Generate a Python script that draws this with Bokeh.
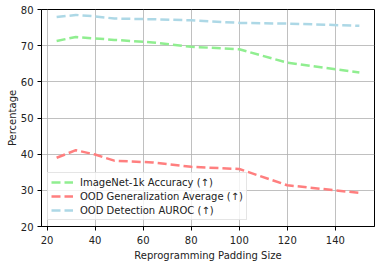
from bokeh.plotting import figure
from bokeh.models import Range1d, FixedTicker, Legend, LegendItem, ColumnDataSource
from bokeh.embed import file_html
from bokeh.resources import INLINE

padding = [24, 32, 40, 48, 64, 80, 100, 120, 150]
imagenet_acc = [71.3, 72.4, 72.0, 71.6, 70.9, 69.7, 69.0, 65.3, 62.6]
ood_gen = [39.0, 41.1, 39.9, 38.2, 37.7, 36.5, 35.9, 31.4, 29.3]
ood_auroc = [77.9, 78.5, 78.1, 77.5, 77.3, 77.0, 76.3, 76.1, 75.5]

labels = ["ImageNet-1k Accuracy (\u2191)", "OOD Generalization Average (\u2191)", "OOD Detection AUROC (\u2191)"]
colors = ["#90ee90", "#ff7f7f", "#add8e6"]

FONT = "DejaVu Sans"

p = figure(width=376, height=263, output_backend="svg", toolbar_location=None,
           x_range=Range1d(17.7, 156.3), y_range=Range1d(20, 80),
           min_border_left=41, min_border_top=9, min_border_right=2, min_border_bottom=36)

p.outline_line_color = "black"
p.outline_line_width = 1
p.outline_line_alpha = 1

src = ColumnDataSource(dict(x=padding, a=imagenet_acc, g=ood_gen, d=ood_auroc))
r1 = p.line("x", "a", source=src, line_color=colors[0], line_width=2.5, line_dash="9 4")
r2 = p.line("x", "g", source=src, line_color=colors[1], line_width=2.5, line_dash="9 4")
r3 = p.line("x", "d", source=src, line_color=colors[2], line_width=2.5, line_dash="9 4")

for ax in (p.xaxis[0], p.yaxis[0]):
    ax.major_label_text_font = FONT
    ax.major_label_text_font_size = "10px"
    ax.major_label_text_color = "#222222"
    ax.axis_label_text_font = FONT
    ax.axis_label_text_font_size = "10px"
    ax.axis_label_text_font_style = "normal"
    ax.axis_label_text_color = "#222222"
    ax.major_tick_in = 0
    ax.major_tick_out = 4
    ax.minor_tick_line_color = None
    ax.axis_line_color = "black"
    ax.major_label_standoff = 5
    ax.axis_label_standoff = 3

p.yaxis[0].major_label_standoff = 4
p.yaxis[0].axis_label_standoff = 0

p.xaxis.ticker = FixedTicker(ticks=[20, 40, 60, 80, 100, 120, 140])
p.yaxis.ticker = FixedTicker(ticks=[20, 30, 40, 50, 60, 70, 80])
p.xaxis.axis_label = "Reprogramming Padding Size"
p.yaxis.axis_label = "Percentage"

p.xgrid.grid_line_color = "#b0b0b0"
p.ygrid.grid_line_color = "#b0b0b0"
p.xgrid.grid_line_width = 0.8
p.ygrid.grid_line_width = 0.8

legend = Legend(items=[LegendItem(label=labels[0], renderers=[r1]),
                       LegendItem(label=labels[1], renderers=[r2]),
                       LegendItem(label=labels[2], renderers=[r3])],
                location="bottom_left")
legend.label_text_font = FONT
legend.label_text_font_size = "10px"
legend.label_text_color = "#222222"
legend.border_line_color = "#cccccc"
legend.background_fill_alpha = 0.8
legend.glyph_width = 22
legend.glyph_height = 12
legend.label_height = 12
legend.spacing = 2
legend.padding = 3
legend.margin = 6
legend.label_standoff = 7
p.add_layout(legend)

open("out.html", "w").write(file_html(p, INLINE))
